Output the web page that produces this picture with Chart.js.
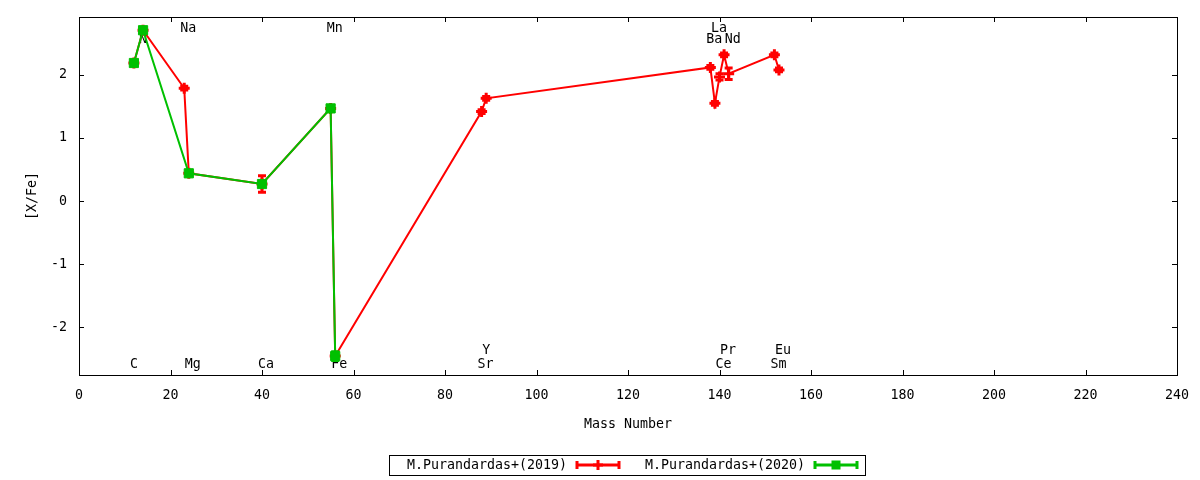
<!DOCTYPE html>
<html><head><meta charset="utf-8">
<style>html,body{margin:0;padding:0;background:#fff;}#wrap{width:1200px;height:480px;}</style>
<script src="https://cdn.jsdelivr.net/npm/chart.js@4.4.1/dist/chart.umd.min.js"></script>
</head><body><div id="wrap"><canvas id="c" width="1200" height="480"></canvas></div>
<script>
// ---- data ----
const seriesNames = ['M.Purandardas+(2019)', 'M.Purandardas+(2020)'];
const mass2019 = [12, 14, 23, 24, 40, 55, 56, 88, 89, 138, 139, 140, 141, 142, 152, 153];
const xfe2019  = [2.19, 2.71, 1.79, 0.44, 0.27, 1.47, -2.46, 1.42, 1.63, 2.12, 1.55, 1.97, 2.32, 2.02, 2.32, 2.08];
const err2019  = [0.03, 0.03, 0.03, 0.03, 0.13, 0.03, 0.03, 0.03, 0.03, 0.03, 0.03, 0.05, 0.03, 0.09, 0.03, 0.03];
const mass2020 = [12, 14, 24, 40, 55, 56];
const xfe2020  = [2.19, 2.71, 0.44, 0.27, 1.47, -2.46];
const err2020  = [0.03, 0.03, 0.03, 0.03, 0.03, 0.07];
const elemNames  = ['C', 'N', 'Na', 'Mg', 'Ca', 'Mn', 'Fe', 'Sr', 'Y', 'Ba', 'La', 'Ce', 'Pr', 'Nd', 'Sm', 'Eu'];
const elemMass   = [12, 14, 23, 24, 40, 55, 56, 88, 89, 138, 139, 140, 141, 142, 152, 153];
const elemLabelY = [-2.59, 2.56, 2.73, -2.59, -2.59, 2.73, -2.59, -2.59, -2.37, 2.56, 2.73, -2.59, -2.37, 2.56, -2.59, -2.37];
const xTicks = [0, 20, 40, 60, 80, 100, 120, 140, 160, 180, 200, 220, 240];
const yTicks = [-2, -1, 0, 1, 2];
const xRange = [0, 240];
const yRange = [-2.76, 2.92];
const xTitle = 'Mass Number';
const yTitle = '[X/Fe]';

const RED = '#ff0000', GREEN = '#00c000';
const FONT = '"DejaVu Sans Mono", monospace';
const FS = 13.3;
Chart.defaults.color = '#000';
Chart.defaults.font.family = FONT;
Chart.defaults.font.size = FS;

const pts = (xs, ys) => xs.map((m, i) => ({x: m, y: ys[i]}));

const framePlugin = {
  id: 'frame',
  beforeDatasetsDraw(chart) {
    const {ctx, chartArea: a, scales: {x, y}} = chart;
    ctx.save();
    // element labels
    ctx.fillStyle = '#000';
    ctx.font = FS + 'px ' + FONT;
    ctx.textAlign = 'left'; ctx.textBaseline = 'middle';
    elemNames.forEach((n, i) => {
      ctx.fillText(n, x.getPixelForValue(elemMass[i]) - 4, y.getPixelForValue(elemLabelY[i]));
    });
    ctx.strokeStyle = '#000'; ctx.lineWidth = 1;
    ctx.strokeRect(Math.round(a.left) + 0.5, Math.round(a.top) + 0.5, Math.round(a.right - a.left), Math.round(a.bottom - a.top));
    const L = 5;
    ctx.beginPath();
    x.ticks.forEach(t => {
      const px = Math.round(x.getPixelForValue(t.value)) + 0.5;
      ctx.moveTo(px, a.bottom); ctx.lineTo(px, a.bottom - L);
      ctx.moveTo(px, a.top); ctx.lineTo(px, a.top + L);
    });
    y.ticks.forEach(t => {
      const py = Math.round(y.getPixelForValue(t.value)) + 0.5;
      ctx.moveTo(a.left, py); ctx.lineTo(a.left + L, py);
      ctx.moveTo(a.right, py); ctx.lineTo(a.right - L, py);
    });
    ctx.stroke();
    ctx.restore();
  },
  afterDatasetDraw(chart, args) {
    const ds = chart.data.datasets[args.index];
    if (!ds.errors) return;
    const {ctx, scales: {y}} = chart;
    ctx.save();
    ctx.strokeStyle = ds.borderColor; ctx.lineWidth = 3;
    ctx.beginPath();
    args.meta.data.forEach((p, i) => {
      const v = ds.data[i].y, e = ds.errors[i];
      const y1 = y.getPixelForValue(v + e), y2 = y.getPixelForValue(v - e);
      ctx.moveTo(p.x, y1); ctx.lineTo(p.x, y2);
      ctx.moveTo(p.x - 4, y1); ctx.lineTo(p.x + 4, y1);
      ctx.moveTo(p.x - 4, y2); ctx.lineTo(p.x + 4, y2);
    });
    ctx.stroke();
    ctx.restore();
  },
  afterDraw(chart) {
    const {ctx} = chart;
    ctx.save();
    ctx.strokeStyle = '#000'; ctx.lineWidth = 1;
    ctx.strokeRect(389.5, 455.5, 476, 20);
    const cy = 465;
    const items = [{tr: 567, x0: 577, x1: 619}, {tr: 805, x0: 815, x1: 857}];
    ctx.font = FS + 'px ' + FONT; ctx.textAlign = 'right'; ctx.textBaseline = 'middle';
    chart.data.datasets.forEach((ds, i) => {
      const it = items[i];
      ctx.fillStyle = '#000';
      ctx.fillText(ds.label, it.tr, cy + 1);
      ctx.strokeStyle = ds.borderColor; ctx.fillStyle = ds.borderColor; ctx.lineWidth = 3;
      ctx.beginPath();
      ctx.moveTo(it.x0, cy); ctx.lineTo(it.x1, cy);
      ctx.moveTo(it.x0, cy - 4); ctx.lineTo(it.x0, cy + 4);
      ctx.moveTo(it.x1, cy - 4); ctx.lineTo(it.x1, cy + 4);
      ctx.stroke();
      const xm = (it.x0 + it.x1) / 2;
      if (ds.pointStyle === 'rect') {
        ctx.fillRect(xm - 4.5, cy - 4.5, 9, 9);
      } else {
        ctx.beginPath();
        ctx.moveTo(xm - 5, cy); ctx.lineTo(xm + 5, cy);
        ctx.moveTo(xm, cy - 5); ctx.lineTo(xm, cy + 5);
        ctx.stroke();
      }
    });
    ctx.restore();
  }
};

new Chart(document.getElementById('c'), {
  type: 'scatter',
  data: {
    datasets: [
      {
        label: seriesNames[0], data: pts(mass2019, xfe2019), errors: err2019,
        showLine: true, borderColor: RED, backgroundColor: RED, borderWidth: 2,
        pointStyle: 'cross', pointRadius: 5.5, pointBorderWidth: 3, order: 2
      },
      {
        label: seriesNames[1], data: pts(mass2020, xfe2020), errors: err2020,
        showLine: true, borderColor: GREEN, backgroundColor: GREEN, borderWidth: 2,
        pointStyle: 'rect', pointRadius: 6.5, pointBorderWidth: 1, order: 1
      }
    ]
  },
  options: {
    responsive: false, animation: false, devicePixelRatio: 1, events: [],
    layout: {padding: {left: 0, right: 23, top: 17, bottom: 0}},
    plugins: {legend: {display: false}, tooltip: {enabled: false}},
    scales: {
      x: {
        type: 'linear', min: xRange[0], max: xRange[1],
        afterBuildTicks: s => { s.ticks = xTicks.map(v => ({value: v})); },
        afterFit: s => { s.height = 105; s.paddingLeft = 0; s.paddingRight = 0; },
        grid: {display: false, drawTicks: false},
        border: {display: false},
        ticks: {padding: 13, maxRotation: 0, color: '#000', font: {size: FS}},
        title: {display: true, text: xTitle, padding: {top: 0, bottom: 47}, font: {size: FS}}
      },
      y: {
        type: 'linear', min: yRange[0], max: yRange[1],
        afterBuildTicks: s => { s.ticks = yTicks.map(v => ({value: v})); },
        afterFit: s => { s.width = 79; s.paddingTop = 0; s.paddingBottom = 0; },
        grid: {display: false, drawTicks: false},
        border: {display: false},
        ticks: {padding: 12, color: '#000', font: {size: FS}},
        title: {display: true, text: yTitle, padding: {top: 25, bottom: 0}, font: {size: FS}}
      }
    }
  },
  plugins: [framePlugin]
});
</script>
</body></html>
